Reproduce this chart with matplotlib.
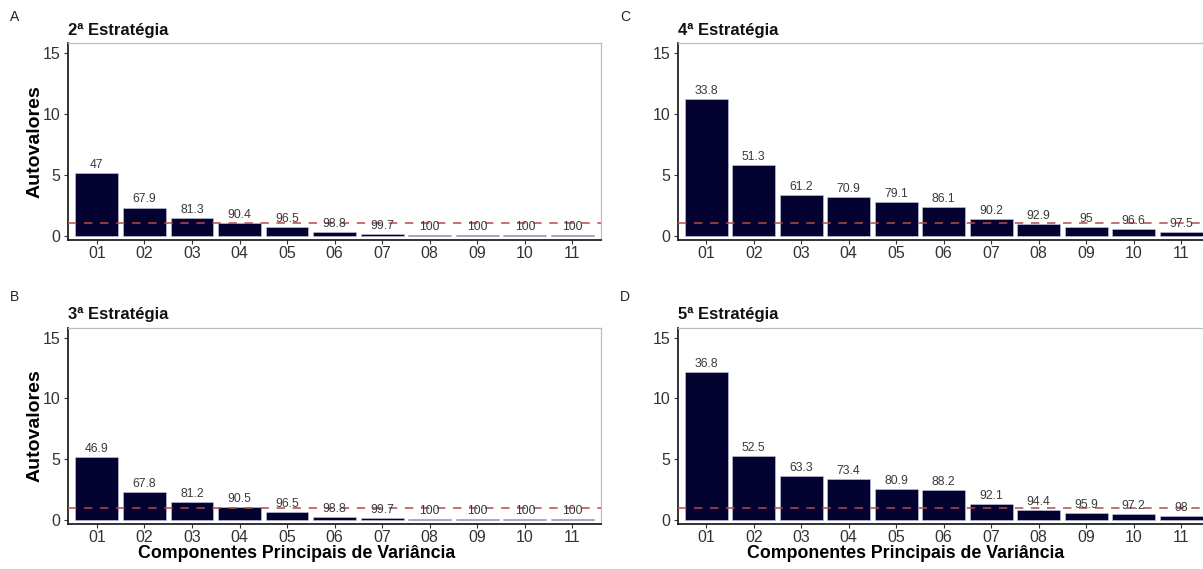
import matplotlib
matplotlib.use("Agg")
import matplotlib.pyplot as plt

plt.rcParams['font.family'] = ['Liberation Sans', 'DejaVu Sans']

components = ["01", "02", "03", "04", "05", "06", "07", "08", "09", "10", "11"]

eig_A = [5.17, 2.30, 1.47, 1.00, 0.67, 0.25, 0.12, 0.07, 0.06, 0.06, 0.06]
cum_A = ["47", "67.9", "81.3", "90.4", "96.5", "98.8", "99.7", "100", "100", "100", "100"]

eig_B = [5.16, 2.30, 1.47, 1.02, 0.66, 0.25, 0.12, 0.07, 0.06, 0.06, 0.06]
cum_B = ["46.9", "67.8", "81.2", "90.5", "96.5", "98.8", "99.7", "100", "100", "100", "100"]

eig_C = [11.2, 5.8, 3.3, 3.2, 2.75, 2.35, 1.38, 0.95, 0.72, 0.56, 0.32]
cum_C = ["33.8", "51.3", "61.2", "70.9", "79.1", "86.1", "90.2", "92.9", "95", "96.6", "97.5"]

eig_D = [12.2, 5.22, 3.6, 3.35, 2.5, 2.45, 1.32, 0.80, 0.53, 0.45, 0.30]
cum_D = ["36.8", "52.5", "63.3", "73.4", "80.9", "88.2", "92.1", "94.4", "95.9", "97.2", "98"]

panel_letters = ["A", "B", "C", "D"]
titles = ["2ª Estratégia", "3ª Estratégia", "4ª Estratégia", "5ª Estratégia"]
threshold = 1.0

W, H = 1203, 569
fig = plt.figure(figsize=(W / 100, H / 100), dpi=100)

BAR = "#030230"
DASH = "#b94a48"


def box(l, t, r, b):
    return [l / W, 1 - b / H, (r - l) / W, (b - t) / H]


panels = [
    (eig_A, cum_A, box(68.3, 43.3, 601, 240), True, False),
    (eig_B, cum_B, box(68.3, 327.7, 601, 524.3), True, True),
    (eig_C, cum_C, box(677.7, 43.3, 1209.7, 240), False, False),
    (eig_D, cum_D, box(677.7, 327.7, 1209.7, 524.3), False, True),
]

for idx, (eig, cum, pos, ylab, xlab) in enumerate(panels):
    ax = fig.add_axes(pos)
    x = list(range(1, len(components) + 1))
    ax.bar(x, eig, width=0.9, color=BAR, edgecolor="#c9c9e2", linewidth=0.4, zorder=2)
    ax.axhline(threshold, color=DASH, linestyle=(0, (5.5, 5)), linewidth=1.1, zorder=3)
    for xi, v, lab in zip(x, eig, cum):
        ax.annotate(lab, (xi, v), xytext=(0, 1.5), textcoords="offset points",
                    ha="center", va="bottom", fontsize=8.8, color="#3a3a3a", zorder=4)
    ax.set_xlim(0.4, 11.6)
    ax.set_ylim(-0.37, 15.82)
    ax.set_xticks(x)
    ax.set_xticklabels(components)
    ax.set_yticks([0, 5, 10, 15])
    ax.tick_params(axis="both", labelsize=11.5, colors="#333333", length=3,
                   width=0.8, pad=2.5)
    ax.tick_params(axis="x", pad=1.0)
    for s in ("left", "bottom"):
        ax.spines[s].set_color("#222222")
        ax.spines[s].set_linewidth(1.3)
    for s in ("top", "right"):
        ax.spines[s].set_color("#bdbdbd")
        ax.spines[s].set_linewidth(0.9)
    ax.set_title(titles[idx], loc="left", fontsize=12, fontweight="bold",
                 pad=6, color="#111111")
    if ylab:
        ax.set_ylabel("Autovalores", fontsize=14, fontweight="bold")
        ax.yaxis.set_label_coords(-0.047, 0.5)
    if xlab:
        ax.set_xlabel("Componentes Principais de Variância", fontsize=12.8,
                      fontweight="bold")
        ax.xaxis.set_label_coords(0.428, -0.171)
        ax.xaxis.label.set_verticalalignment("baseline")
    ax.set_facecolor("white")

letter_pos = [(10, 17), (10, 297), (620, 17), (620, 297)]
for L, (lx, ly) in zip(panel_letters, letter_pos):
    fig.text(lx / W, 1 - ly / H, L, fontsize=10, ha="left", va="center", color="#222222")

fig.savefig("out.png", dpi=100)
